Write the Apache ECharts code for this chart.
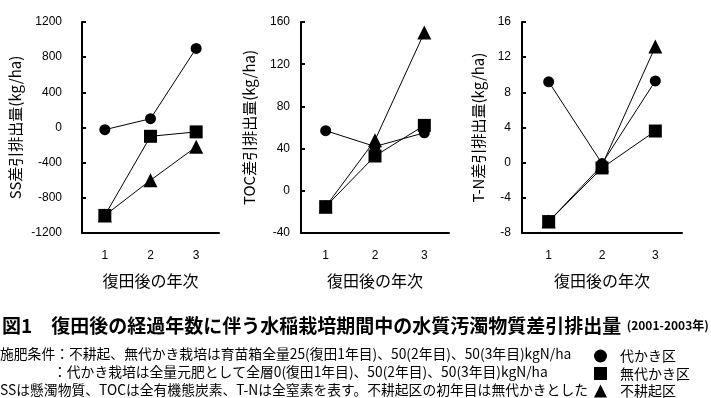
<!DOCTYPE html>
<html>
<head>
<meta charset="utf-8">
<script src="https://cdn.jsdelivr.net/npm/echarts@6/dist/echarts.min.js"></script>
<style>
  html, body { margin: 0; padding: 0; background: #fff; }
  #chart { width: 711px; height: 398px; }
</style>
</head>
<body>
<div id="chart"></div>
<script>
// データ
var nendo = ['1', '2', '3'];
var seriesNames = ['代かき区', '無代かき区', '不耕起区'];
var symbols = ['circle', 'rect', 'triangle'];
var symbolSizes = [11, 13, 14];

var ssShiro = [-25, 100, 900];
var ssMushiro = [-1000, -100, -50];
var ssFukouki = [-1000, -600, -220];

var tocShiro = [57, 42, 55];
var tocMushiro = [-15, 33, 62];
var tocFukouki = [-15, 48, 150];

var tnShiro = [9.2, -0.1, 9.3];
var tnMushiro = [-6.7, -0.6, 3.6];
var tnFukouki = [-6.7, -0.3, 13.2];

var fontJP = "'Noto Sans CJK JP', sans-serif";

var chart = echarts.init(document.getElementById('chart'), null, { renderer: 'canvas' });

// パネルごとの設定
var panels = [
    { left: 82, width: 137, min: -1200, max: 1200, interval: 400, name: 'SS差引排出量(kg/ha)', nameGap: 59, labelMargin: 20,
      data: [ssShiro, ssMushiro, ssFukouki] },
    { left: 301, width: 148, min: -40, max: 160, interval: 40, name: 'TOC差引排出量(kg/ha)', nameGap: 44, labelMargin: 11,
      data: [tocShiro, tocMushiro, tocFukouki] },
    { left: 522, width: 160, min: -8, max: 16, interval: 4, name: 'T-N差引排出量(kg/ha)', nameGap: 36, labelMargin: 11,
      data: [tnShiro, tnMushiro, tnFukouki] }
];

var grids = [], xAxes = [], yAxes = [], series = [];

panels.forEach(function (p, i) {
    grids.push({ left: p.left, top: 22, width: p.width, height: 211 });
    xAxes.push({
        type: 'category',
        gridIndex: i,
        data: nendo,
        boundaryGap: true,
        name: '復田後の年次',
        nameLocation: 'middle',
        nameGap: 40,
        nameTextStyle: { fontFamily: fontJP, fontSize: 16, color: '#000' },
        axisLine: { onZero: false, lineStyle: { color: '#000', width: 2 } },
        axisTick: { inside: true, length: 4, lineStyle: { color: '#000', width: 2 } },
        axisLabel: { margin: 17, fontSize: 12, color: '#000', fontFamily: 'Arial, sans-serif' },
        splitLine: { show: false }
    });
    yAxes.push({
        type: 'value',
        gridIndex: i,
        min: p.min,
        max: p.max,
        interval: p.interval,
        name: p.name,
        nameLocation: 'middle',
        nameGap: p.nameGap,
        nameRotate: 90,
        nameTextStyle: { fontFamily: fontJP, fontSize: 15, color: '#000' },
        axisLine: { show: true, lineStyle: { color: '#000', width: 2 } },
        axisTick: { show: true, inside: true, length: 4, lineStyle: { color: '#000', width: 2 } },
        axisLabel: {
            margin: p.labelMargin, fontSize: 12, color: '#000', fontFamily: 'Arial, sans-serif',
            formatter: function (v) { return String(v); }
        },
        splitLine: { show: false }
    });
    p.data.forEach(function (vals, k) {
        series.push({
            name: seriesNames[k],
            type: 'line',
            xAxisIndex: i,
            yAxisIndex: i,
            data: vals,
            symbol: symbols[k],
            symbolSize: symbolSizes[k],
            showAllSymbol: true,
            lineStyle: { color: '#000', width: 1 },
            itemStyle: { color: '#000' },
            animation: false
        });
    });
});

var option = {
    animation: false,
    backgroundColor: '#fff',
    textStyle: { fontFamily: fontJP },
    grid: grids,
    xAxis: xAxes,
    yAxis: yAxes,
    series: series,
    legend: {
        orient: 'vertical',
        left: 594,
        top: 349,
        height: 60,
        padding: 0,
        itemGap: 3.5,
        itemWidth: 13,
        itemHeight: 13,
        textStyle: { fontFamily: fontJP, fontSize: 14, lineHeight: 14, color: '#000', padding: [0, 0, 0, 8] },
        data: [
            { name: '代かき区', icon: 'circle' },
            { name: '無代かき区', icon: 'rect' },
            { name: '不耕起区', icon: 'triangle' }
        ],
        selectedMode: false
    },
    graphic: [
        {
            type: 'text', left: 2, top: 316,
            style: {
                text: '{a|図1　復田後の経過年数に伴う水稲栽培期間中の水質汚濁物質差引排出量}{b|  (2001-2003年)}',
                rich: {
                    a: { fontFamily: fontJP, fontSize: 19, fontWeight: 'bold', fill: '#000' },
                    b: { fontFamily: fontJP, fontSize: 12, fontWeight: 'bold', fill: '#000' }
                }
            }
        },
        {
            type: 'text', left: 0, top: 347,
            style: {
                text: '施肥条件：不耕起、無代かき栽培は育苗箱全量25(復田1年目)、50(2年目)、50(3年目)kgN/ha',
                fontFamily: fontJP, fontSize: 13.8, fill: '#000'
            }
        },
        {
            type: 'text', left: 53, top: 365,
            style: {
                text: '：代かき栽培は全量元肥として全層0(復田1年目)、50(2年目)、50(3年目)kgN/ha',
                fontFamily: fontJP, fontSize: 13.8, fill: '#000'
            }
        },
        {
            type: 'text', left: 0, top: 383,
            style: {
                text: 'SSは懸濁物質、TOCは全有機態炭素、T-Nは全窒素を表す。不耕起区の初年目は無代かきとした。',
                fontFamily: fontJP, fontSize: 13.8, fill: '#000',
                width: 593, overflow: 'truncate', ellipsis: ''
            }
        }
    ]
};

chart.setOption(option);
</script>
</body>
</html>
